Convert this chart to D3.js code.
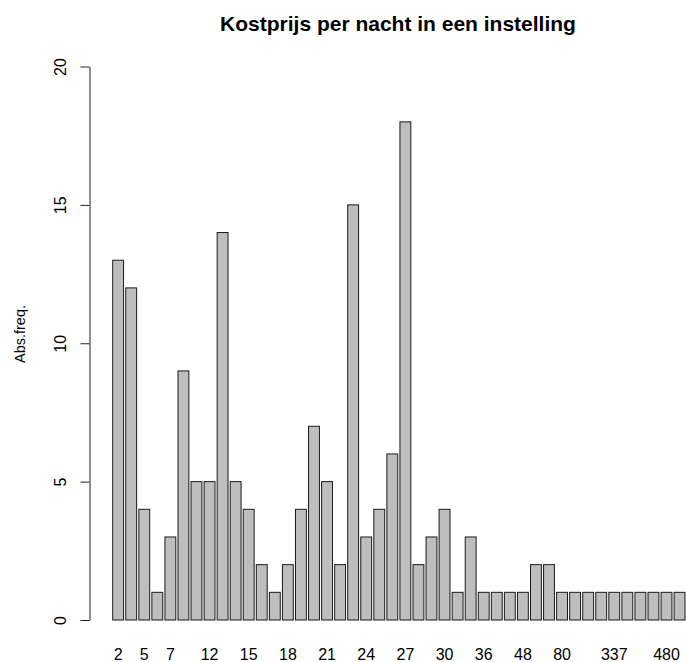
<!DOCTYPE html>
<html>
<head>
<meta charset="utf-8">
<script src="https://cdn.jsdelivr.net/npm/d3@7"></script>
<style>
  body { margin: 0; background: #fff; }
  text { font-family: "Liberation Sans", Arial, sans-serif; fill: #000; }
</style>
</head>
<body>
<div id="chart"></div>
<script>
// prijs per nacht (categorie) en absolute frequentie
var prijzen = ["2", "4", "5", "6", "7", "8", "10", "12", "13", "14", "15",
  "16", "17", "18", "19", "20", "21", "22", "23", "24", "25", "26", "27",
  "28", "29", "30", "32", "35", "36", "40", "45", "48", "50", "60", "80",
  "100", "150", "250", "337", "350", "400", "450", "480", "500"]
var freq = [13, 12, 4, 1, 3, 9, 5, 5, 14, 5, 4, 2, 1, 2, 4, 7, 5, 2, 15, 3,
  4, 6, 18, 2, 3, 4, 1, 3, 1, 1, 1, 1, 2, 2, 1, 1, 1, 1, 1, 1, 1, 1, 1, 1]
// labels that R could fit on the x axis
var shownLabels = ["2", "5", "7", "12", "15", "18", "21", "24", "27", "30",
  "36", "48", "80", "337", "480"]
var yTicks = [0, 5, 10, 15, 20]

var data = prijzen.map(function(p, i) { return { prijs: p, n: freq[i] } })

var width = 686
var height = 662

var svg = d3.select("#chart")
  .append("svg")
    .attr("width", width)
    .attr("height", height)

var x = d3.scaleBand()
  .domain(prijzen)
  .range([112.7, 685])
  .paddingInner(1 / 6)
  .paddingOuter(0)

var y = d3.scaleLinear()
  .domain([0, 20])
  .range([620, 66.5])

// bars
svg.append("g")
  .selectAll("rect")
  .data(data)
  .enter()
  .append("rect")
    .attr("x", function(d) { return x(d.prijs) })
    .attr("y", function(d) { return y(d.n) })
    .attr("width", x.bandwidth())
    .attr("height", function(d) { return y(0) - y(d.n) })
    .style("fill", "#bebebe")
    .style("stroke", "#1a1a1a")
    .style("stroke-width", 1)

// y axis, R style with vertical labels
var yAxis = svg.append("g")
  .attr("transform", "translate(89.5,0)")
  .call(d3.axisLeft(y).tickValues(yTicks).tickSize(9).tickSizeOuter(0))

yAxis.select(".domain").attr("stroke", "#222")
yAxis.selectAll(".tick line").attr("stroke", "#222")
yAxis.selectAll(".tick text")
  .attr("x", null)
  .attr("dy", null)
  .attr("text-anchor", "middle")
  .attr("transform", "translate(-24,0) rotate(-90)")
  .style("font-size", "16px")
  .style("font-family", "Liberation Sans, Arial, sans-serif")

// x axis: labels only, no line or ticks
var xAxis = svg.append("g")
  .attr("transform", "translate(0,620)")
  .call(d3.axisBottom(x).tickValues(shownLabels).tickSize(0))

xAxis.select(".domain").remove()
xAxis.selectAll(".tick text")
  .attr("y", 40)
  .attr("dy", null)
  .style("font-size", "16px")
  .style("font-family", "Liberation Sans, Arial, sans-serif")

// y label
svg.append("text")
  .attr("transform", "translate(25,334) rotate(-90)")
  .attr("text-anchor", "middle")
  .style("font-size", "14.5px")
  .text("Abs.freq.")

// title
svg.append("text")
  .attr("x", 398)
  .attr("y", 31)
  .attr("text-anchor", "middle")
  .style("font-size", "21px")
  .style("font-weight", "bold")
  .text("Kostprijs per nacht in een instelling")
</script>
</body>
</html>
